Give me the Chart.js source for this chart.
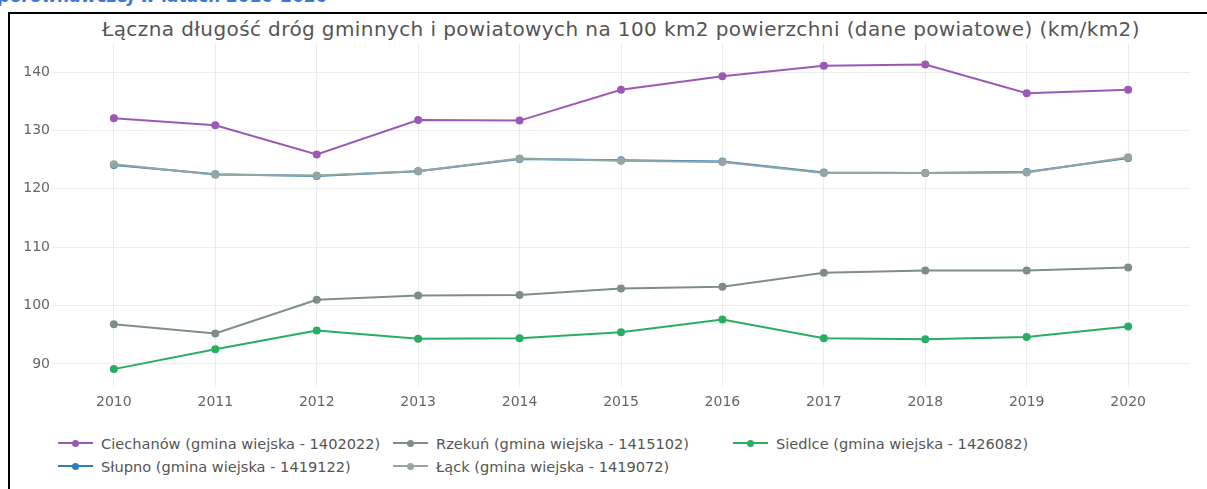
<!DOCTYPE html>
<html>
<head>
<meta charset="utf-8">
<script src="https://cdn.jsdelivr.net/npm/chart.js@4/dist/chart.umd.min.js"></script>
<style>
  html, body { margin: 0; padding: 0; background: #fff; width: 1207px; height: 489px; overflow: hidden; }
  body { position: relative; font-family: "DejaVu Sans", Verdana, sans-serif; }
  #caption { position: absolute; left: -2px; top: -14px; font: italic bold 17px "DejaVu Sans", sans-serif; color: #3c78d8; white-space: nowrap; }
  #frame { position: absolute; left: 8px; top: 12px; width: 1400px; height: 600px; border-left: 2px solid #000; border-top: 2px solid #000; pointer-events: none; }
  #title { position: absolute; top: 18px; left: 0; width: 1242px; text-align: center; font-size: 20px; letter-spacing: 0.4px; line-height: 23px; color: #555; white-space: nowrap; }
  #chart { position: absolute; left: 0; top: 0; }
  .item { position: absolute; height: 18px; display: flex; align-items: center; white-space: nowrap; font-size: 14.6px; color: #555; }
  .sym { position: relative; width: 35px; height: 2px; margin-right: 8px; }
  .sym i { position: absolute; left: 14px; top: -2.5px; width: 7px; height: 7px; border-radius: 50%; }
</style>
</head>
<body>
<div id="caption">porównawczej w latach 2010-2020</div>
<div id="frame"></div>
<div id="title">Łączna długość dróg gminnych i powiatowych na 100 km2 powierzchni (dane powiatowe) (km/km2)</div>
<canvas id="chart" width="1207" height="420"></canvas>
<div id="legend"></div>
<script>
// Years on the horizontal axis
const years = [2010, 2011, 2012, 2013, 2014, 2015, 2016, 2017, 2018, 2019, 2020];
// Gridline values on the vertical axis
const yTicks = [90, 100, 110, 120, 130, 140];

// Road length per 100 km2 for each gmina (km/km2)
const ciechanow = [132.1, 130.9, 125.9, 131.8, 131.7, 137.0, 139.3, 141.1, 141.3, 136.4, 137.0];
const rzekun    = [96.8, 95.2, 101.0, 101.7, 101.8, 102.9, 103.2, 105.6, 106.0, 106.0, 106.5];
const siedlce   = [89.1, 92.5, 95.7, 94.3, 94.4, 95.4, 97.6, 94.4, 94.2, 94.6, 96.4];
const slupno    = [124.1, 122.5, 122.2, 123.0, 125.1, 124.9, 124.7, 122.8, 122.7, 122.9, 125.3];
const lack      = [124.2, 122.4, 122.3, 123.0, 125.2, 124.8, 124.6, 122.7, 122.7, 122.8, 125.4];

const names = [
  'Ciechanów (gmina wiejska - 1402022)',
  'Rzekuń (gmina wiejska - 1415102)',
  'Siedlce (gmina wiejska - 1426082)',
  'Słupno (gmina wiejska - 1419122)',
  'Łąck (gmina wiejska - 1419072)'
];
const values = [ciechanow, rzekun, siedlce, slupno, lack];
const colors = ['#9b59b6', '#7f8c8d', '#27ae60', '#2980b9', '#95a5a6'];

const FONT = '"DejaVu Sans", Verdana, sans-serif';

const datasets = names.map((name, i) => ({
  label: name,
  data: years.map((yr, k) => ({ x: yr, y: values[i][k] })),
  borderColor: colors[i],
  backgroundColor: colors[i],
  pointBackgroundColor: colors[i],
  pointBorderWidth: 0,
  pointRadius: 4,
  borderWidth: 2,
  tension: 0,
  // Łąck is drawn above Słupno, which it nearly covers
  order: i === 4 ? 0 : 1
}));

new Chart(document.getElementById('chart'), {
  type: 'line',
  data: { datasets },
  options: {
    responsive: false,
    animation: false,
    devicePixelRatio: 1,
    layout: { padding: { left: 10, right: 17, top: 43, bottom: 2 } },
    plugins: { legend: { display: false }, tooltip: { enabled: false }, title: { display: false } },
    scales: {
      x: {
        type: 'linear',
        min: years[0] - 0.61,
        max: years[years.length - 1] + 0.61,
        afterBuildTicks: s => { s.ticks = years.map(v => ({ value: v })); },
        grid: { color: '#ececec', lineWidth: 1, drawTicks: false },
        border: { display: false },
        ticks: {
          padding: 7, autoSkip: false, maxRotation: 0,
          color: '#666', font: { family: FONT, size: 14 },
          callback: v => String(v)
        }
      },
      y: {
        min: 86,
        max: 145,
        afterBuildTicks: s => { s.ticks = yTicks.map(v => ({ value: v })); },
        afterFit: s => { s.width = 42; },
        grid: { color: '#ececec', lineWidth: 1, drawTicks: false },
        border: { display: false },
        ticks: {
          padding: 2,
          color: '#666', font: { family: FONT, size: 14 },
          callback: v => String(v)
        }
      }
    }
  }
});

// Legend laid out in columns below the plot
const legendSlots = [
  { x: 58, y: 434 }, { x: 393, y: 434 }, { x: 733, y: 434 },
  { x: 58, y: 457 }, { x: 393, y: 457 }
];
const legend = document.getElementById('legend');
names.forEach((name, i) => {
  const item = document.createElement('div');
  item.className = 'item';
  item.style.left = legendSlots[i].x + 'px';
  item.style.top = legendSlots[i].y + 'px';
  const sym = document.createElement('span');
  sym.className = 'sym';
  sym.style.background = colors[i];
  const dot = document.createElement('i');
  dot.style.background = colors[i];
  sym.appendChild(dot);
  const label = document.createElement('span');
  label.textContent = name;
  item.appendChild(sym);
  item.appendChild(label);
  legend.appendChild(item);
});
</script>
</body>
</html>
